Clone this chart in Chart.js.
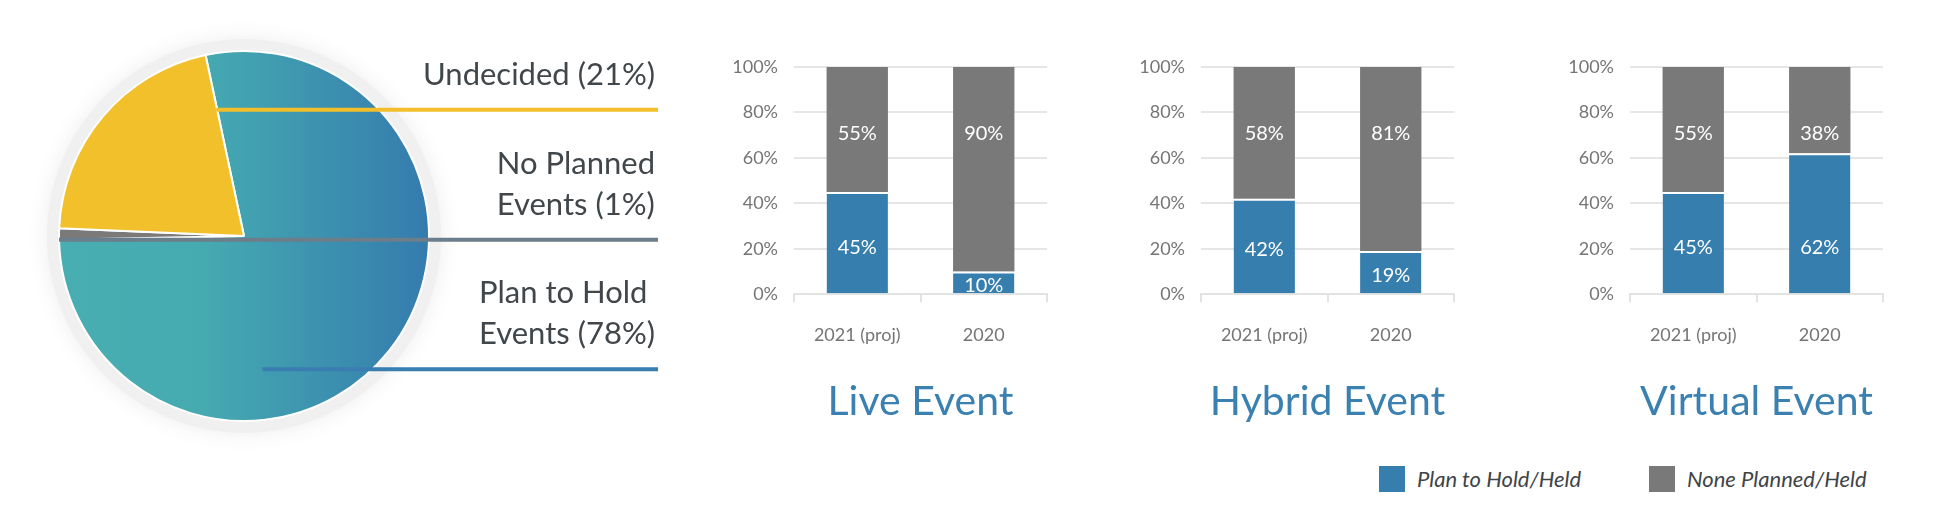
<!DOCTYPE html>
<html>
<head>
<meta charset="utf-8">
<script src="https://cdn.jsdelivr.net/npm/chart.js@4.4.1/dist/chart.umd.min.js"></script>
<style>
  body { margin: 0; background: #fff; }
  #page { position: relative; width: 1934px; height: 532px; overflow: hidden; font-family: Lato, sans-serif; }
  canvas { position: absolute; top: 0; }
  .legend-item { position: absolute; top: 465px; display: flex; align-items: center; font-style: italic; font-size: 22px; color: #3f4447; }
  .legend-item .box { width: 26px; height: 26px; margin-right: 12px; }
</style>
</head>
<body>
<div id="page">
  <canvas id="pie-chart" width="680" height="532" style="left:0"></canvas>
  <canvas id="live-chart" width="343" height="432" style="left:714px"></canvas>
  <canvas id="hybrid-chart" width="343" height="432" style="left:1121px"></canvas>
  <canvas id="virtual-chart" width="343" height="432" style="left:1550px"></canvas>
</div>
<script>
// pie data
var pieLabels = ["Plan to Hold Events", "No Planned Events", "Undecided"];
var pieValues = [78, 1, 21];
// how each pie label wraps (the % is added to the last line)
var pieLabelLines = [["Plan to Hold", "Events"], ["No Planned", "Events"], ["Undecided"]];

// bar data
var years = ["2021 (proj)", "2020"];
var seriesNames = ["Plan to Hold/Held", "None Planned/Held"];
var liveHeld = [45, 10];
var liveNone = [55, 90];
var hybridHeld = [42, 19];
var hybridNone = [58, 81];
var virtualHeld = [45, 62];
var virtualNone = [55, 38];
var yTicks = [0, 20, 40, 60, 80, 100];

var seriesColors = ["#367eae", "#797979"];
var pieColors = [null, "#7a7a7a", "#f2c02a"];
// leader lines, as fractions of the pie radius from its centre
var pieLeaders = [
  { color: "#3a7db0", y: 0.72, x: 0.1 },
  { color: "#6d7d89", y: 0.02, x: -1 },
  { color: "#f2bf2a", y: -0.683, x: -0.15 },
];

function pieFill(context) {
  if (context.dataIndex !== 0) return pieColors[context.dataIndex];
  var area = context.chart.chartArea;
  if (!area) return "#45a6b1";
  var g = context.chart.ctx.createLinearGradient(area.left, 0, area.right, 0);
  g.addColorStop(0, "#48aeb1");
  g.addColorStop(0.38, "#46abb1");
  g.addColorStop(1, "#347bae");
  return g;
}

var pieDecor = {
  id: "pieDecor",
  beforeDatasetsDraw: function (chart) {
    // soft grey halo round the pie
    var arc = chart.getDatasetMeta(0).data[0];
    var ctx = chart.ctx;
    ctx.save();
    ctx.shadowColor = "rgba(0,0,0,0.07)";
    ctx.shadowBlur = 22;
    ctx.fillStyle = "#f0f0f0";
    ctx.beginPath();
    ctx.arc(arc.x, arc.y, arc.outerRadius + 12, 0, Math.PI * 2);
    ctx.fill();
    ctx.restore();
  },
  afterDatasetsDraw: function (chart) {
    var arc = chart.getDatasetMeta(0).data[0];
    var ctx = chart.ctx;
    var r = arc.outerRadius;
    var lineEnd = chart.width - 22;
    ctx.save();
    ctx.font = "31px Lato";
    ctx.textBaseline = "middle";
    ctx.textAlign = "left";
    pieLeaders.forEach(function (ld, i) {
      var y = arc.y + ld.y * r;
      ctx.strokeStyle = ld.color;
      ctx.lineWidth = 4;
      ctx.beginPath();
      ctx.moveTo(arc.x + ld.x * r, y);
      ctx.lineTo(lineEnd, y);
      ctx.stroke();

      var lines = pieLabelLines[i].slice();
      lines[lines.length - 1] += " (" + pieValues[i] + "%)";
      var maxW = 0;
      lines.forEach(function (t) { maxW = Math.max(maxW, ctx.measureText(t).width); });
      var x0 = lineEnd - 3 - maxW;
      ctx.fillStyle = "#40464a";
      lines.forEach(function (t, k) {
        ctx.fillText(t, x0, y - 35 - (lines.length - 1 - k) * 41);
      });
    });
    ctx.restore();
  },
};

new Chart(document.getElementById("pie-chart"), {
  type: "pie",
  data: {
    labels: pieLabels,
    datasets: [
      {
        data: pieValues,
        backgroundColor: pieFill,
        borderColor: "#fff",
        borderWidth: 2,
      },
    ],
  },
  options: {
    responsive: false,
    animation: false,
    rotation: -12,
    layout: { padding: { left: 58, right: 250, top: 50, bottom: 110 } },
    plugins: { legend: { display: false }, tooltip: { enabled: false } },
  },
  plugins: [pieDecor],
});

// white % labels inside the bars
var barLabels = {
  id: "barLabels",
  afterDatasetsDraw: function (chart) {
    var ctx = chart.ctx;
    var yScale = chart.scales.y;
    ctx.save();
    ctx.fillStyle = "#fff";
    ctx.font = "20px Lato";
    ctx.textAlign = "center";
    ctx.textBaseline = "middle";
    chart.data.datasets.forEach(function (ds, i) {
      chart.getDatasetMeta(i).data.forEach(function (bar, j) {
        var v = ds.data[j];
        var pos = i === 0 ? Math.min(v / 2 - 1.2, 20.6) : 70.6;
        ctx.fillText(v + "%", bar.x, yScale.getPixelForValue(pos));
      });
    });
    ctx.restore();
  },
};

function drawEventChart(canvasId, title, held, none) {
  var tickFont = { family: "Lato", size: 18 };
  return new Chart(document.getElementById(canvasId), {
    type: "bar",
    data: {
      labels: years,
      datasets: [
        {
          label: seriesNames[0],
          data: held,
          backgroundColor: seriesColors[0],
          borderColor: "#fff",
          borderWidth: { top: 2, left: 0, right: 0, bottom: 0 },
          barPercentage: 0.485,
          categoryPercentage: 1,
        },
        {
          label: seriesNames[1],
          data: none,
          backgroundColor: seriesColors[1],
          borderWidth: 0,
          barPercentage: 0.485,
          categoryPercentage: 1,
        },
      ],
    },
    options: {
      responsive: false,
      animation: false,
      layout: { padding: { top: 67, right: 10, bottom: 0, left: 0 } },
      plugins: {
        legend: { display: false },
        tooltip: { enabled: false },
        title: {
          display: true,
          text: title,
          position: "bottom",
          fullSize: false,
          color: "#3a80b0",
          font: { family: "Lato", size: 41, weight: "normal" },
          padding: { top: 9, bottom: 6 },
        },
      },
      scales: {
        x: {
          stacked: true,
          grid: { drawOnChartArea: false, color: "#e3e3e3", lineWidth: 2, tickLength: 8 },
          border: { color: "#e3e3e3", width: 2 },
          ticks: { color: "#757575", font: tickFont, padding: 22 },
        },
        y: {
          stacked: true,
          min: 0,
          max: 100,
          afterBuildTicks: function (scale) {
            scale.ticks = yTicks.map(function (v) { return { value: v }; });
          },
          afterFit: function (scale) { scale.width = 80; },
          grid: { color: "#e6e6e6", lineWidth: 2, drawTicks: false },
          border: { display: false },
          ticks: {
            color: "#757575",
            font: tickFont,
            padding: 16,
            callback: function (v) { return v + "%"; },
          },
        },
      },
    },
    plugins: [barLabels],
  });
}

drawEventChart("live-chart", "Live Event", liveHeld, liveNone);
drawEventChart("hybrid-chart", "Hybrid Event", hybridHeld, hybridNone);
drawEventChart("virtual-chart", "Virtual Event", virtualHeld, virtualNone);

// legend
var legendLeft = [1379, 1649];
seriesNames.forEach(function (name, i) {
  var item = document.createElement("div");
  item.className = "legend-item";
  item.style.left = legendLeft[i] + "px";
  var box = document.createElement("span");
  box.className = "box";
  box.style.background = seriesColors[i];
  var txt = document.createElement("span");
  txt.textContent = name;
  item.appendChild(box);
  item.appendChild(txt);
  document.getElementById("page").appendChild(item);
});
</script>
</body>
</html>
